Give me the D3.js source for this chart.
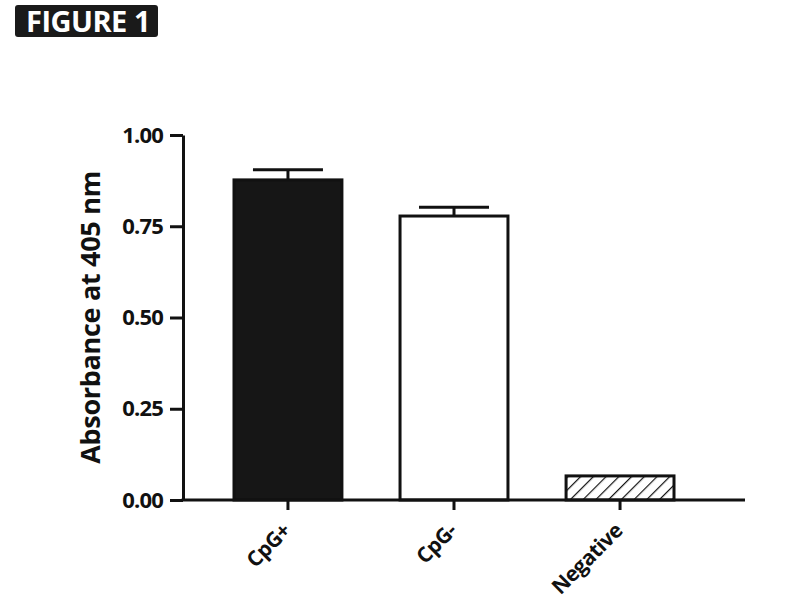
<!DOCTYPE html>
<html>
<head>
<meta charset="utf-8">
<script src="https://cdn.jsdelivr.net/npm/d3@7"></script>
<style>
  body { margin: 0; background: #fff; }
  svg { display: block; font-family: "Open Sans", sans-serif; }
</style>
</head>
<body>
<div id="chart"></div>
<script>
// data
const categories = ["CpG+", "CpG-", "Negative"]
const means = [0.877, 0.778, 0.066]
const errors = [0.028, 0.024, 0]
const fills = ["solid", "open", "hatch"]
const yTicks = [0, 0.25, 0.5, 0.75, 1.0]

const width = 800
const height = 600
const axisLeft = 183       // x of the y axis line
const axisRight = 745      // end of the x axis line
const yBottom = 500
const yTop = 135

const svg = d3.select("#chart")
    .append("svg")
    .attr("width", width)
    .attr("height", height)
    .attr("viewBox", [0, 0, width, height])

// diagonal hatch for the negative control
const defs = svg.append("defs")
defs.append("pattern")
    .attr("id", "hatch")
    .attr("patternUnits", "userSpaceOnUse")
    .attr("width", 9)
    .attr("height", 9)
    .attr("patternTransform", "rotate(45)")
    .append("line")
    .attr("x1", 0).attr("y1", 0)
    .attr("x2", 0).attr("y2", 9)
    .attr("stroke", "#111")
    .attr("stroke-width", 2.4)

// figure label
const fig = svg.append("g")
fig.append("rect")
    .attr("x", 15).attr("y", 5)
    .attr("width", 143).attr("height", 32)
    .attr("rx", 3)
    .attr("fill", "#1a1a1a")
fig.append("text")
    .attr("x", 88).attr("y", 32)
    .attr("text-anchor", "middle")
    .attr("fill", "#fff")
    .attr("font-weight", 700)
    .attr("font-size", 29)
    .attr("letter-spacing", -0.5)
    .text("FIGURE 1")

const x = d3.scaleBand(categories, [234, 674]).paddingInner(0.35).paddingOuter(0)
const y = d3.scaleLinear([0, 1], [yBottom, yTop])

// bars
svg.append("g")
    .selectAll("rect")
    .data(categories)
    .join("rect")
    .attr("x", d => x(d))
    .attr("y", (d, i) => y(means[i]))
    .attr("width", x.bandwidth())
    .attr("height", (d, i) => y(0) - y(means[i]))
    .attr("fill", (d, i) => fills[i] === "solid" ? "#161616" : fills[i] === "hatch" ? "url(#hatch)" : "#fff")
    .attr("stroke", "#111")
    .attr("stroke-width", 3)

// error bars (upper only)
const errTop = i => y(means[i] + errors[i])
const eb = svg.append("g")
    .attr("stroke", "#111")
    .attr("stroke-width", 3)
    .selectAll("g")
    .data(categories.filter((d, i) => errors[i] > 0))
    .join("g")
eb.append("line")
    .attr("x1", d => x(d) + x.bandwidth() / 2)
    .attr("x2", d => x(d) + x.bandwidth() / 2)
    .attr("y1", d => y(means[categories.indexOf(d)]))
    .attr("y2", d => errTop(categories.indexOf(d)))
eb.append("line")
    .attr("x1", d => x(d) + x.bandwidth() / 2 - 35)
    .attr("x2", d => x(d) + x.bandwidth() / 2 + 35)
    .attr("y1", d => errTop(categories.indexOf(d)))
    .attr("y2", d => errTop(categories.indexOf(d)))

// y axis
const yAxis = d3.axisLeft(y)
    .tickValues(yTicks)
    .tickFormat(d3.format(".2f"))
    .tickSize(13)
    .tickPadding(7)
    .tickSizeOuter(0)
svg.append("g")
    .attr("transform", `translate(${axisLeft},0)`)
    .call(yAxis)
    .call(g => g.select(".domain").attr("stroke-width", 3).attr("stroke", "#111"))
    .call(g => g.selectAll(".tick line").attr("stroke-width", 3).attr("stroke", "#111"))
    .call(g => g.selectAll(".tick text")
        .attr("font-family", "Open Sans, sans-serif")
        .attr("font-size", 22)
        .attr("font-weight", 700)
        .attr("letter-spacing", -0.8)
        .attr("fill", "#111"))

// x axis
const xAxis = d3.axisBottom(x)
    .tickSize(10)
    .tickSizeOuter(0)
svg.append("g")
    .attr("transform", `translate(0,${yBottom})`)
    .call(xAxis)
    .call(g => g.select(".domain").remove())
    .call(g => g.append("line")
        .attr("x1", axisLeft - 1.5).attr("x2", axisRight)
        .attr("stroke", "#111").attr("stroke-width", 3))
    .call(g => g.selectAll(".tick line").attr("stroke-width", 3).attr("stroke", "#111"))
    .call(g => g.selectAll(".tick text")
        .attr("font-family", "Open Sans, sans-serif")
        .attr("font-size", 21)
        .attr("font-weight", 700)
        .attr("letter-spacing", -0.5)
        .attr("fill", "#111")
        .attr("text-anchor", "end")
        .attr("dy", null)
        .attr("y", 0)
        .attr("transform", "translate(4,32) rotate(-45)"))

// y title
svg.append("text")
    .attr("transform", `translate(100,${(yTop + yBottom) / 2}) rotate(-90)`)
    .attr("text-anchor", "middle")
    .attr("font-size", 27)
    .attr("font-weight", 700)
    .attr("letter-spacing", -0.3)
    .attr("fill", "#111")
    .text("Absorbance at 405 nm")
</script>
</body>
</html>
